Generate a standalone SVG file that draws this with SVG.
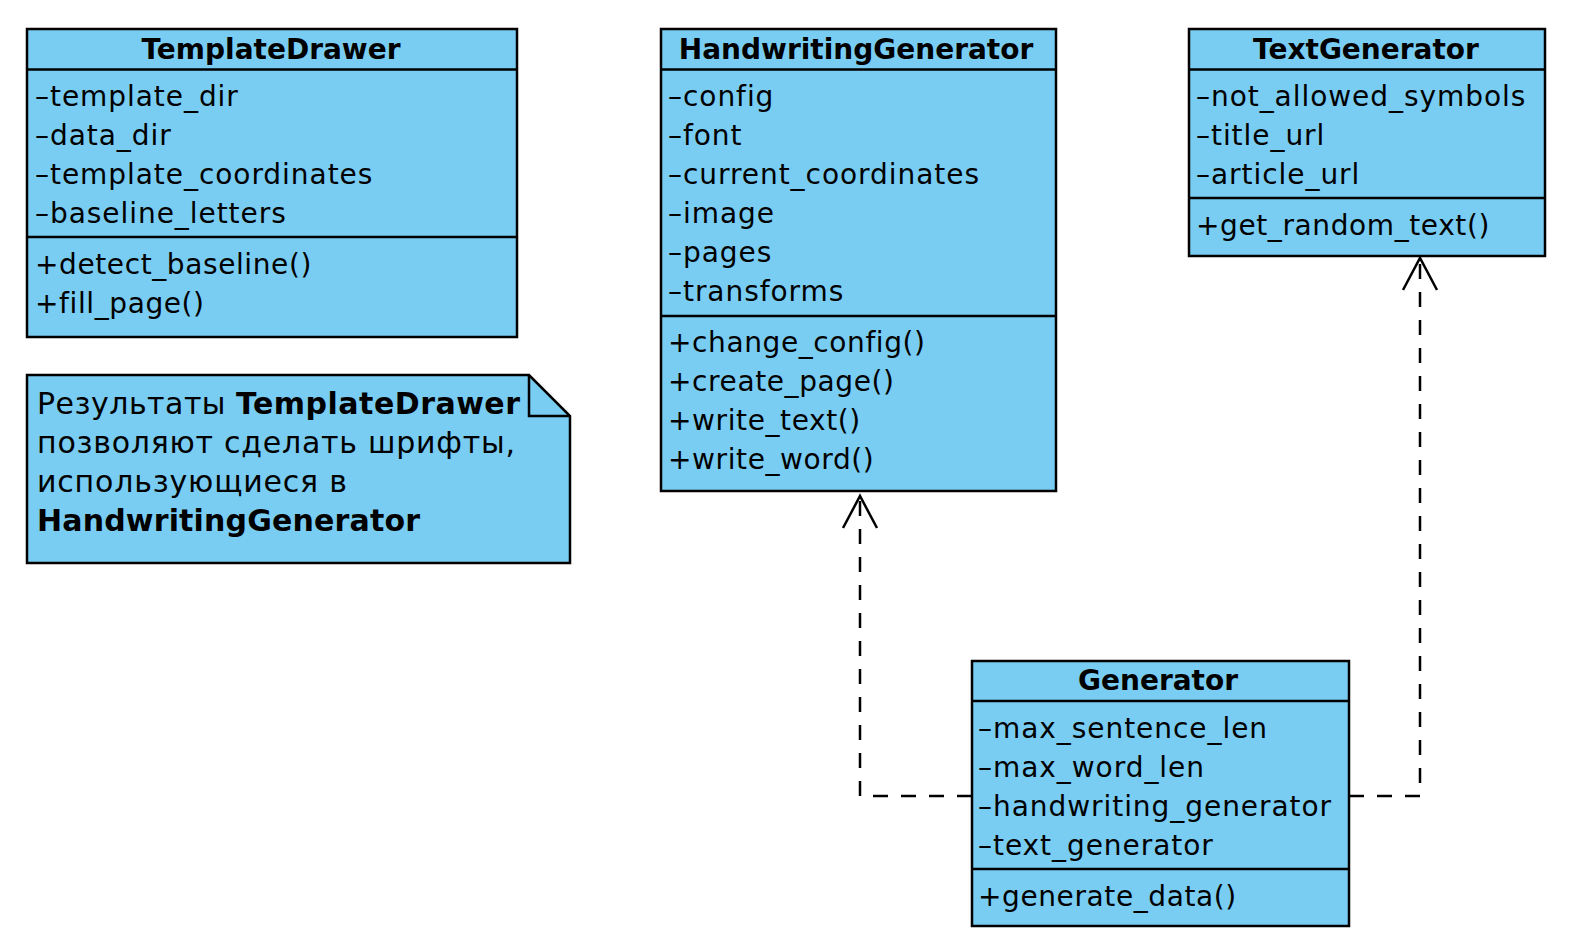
<svg xmlns="http://www.w3.org/2000/svg" width="1574" height="952" viewBox="0 0 1574 952">
<style>
.box{fill:#79CDF3;stroke:#000;stroke-width:2.5}
.sep{stroke:#000;stroke-width:2.5;fill:none}
.t{font-family:"DejaVu Sans",sans-serif;font-size:28px;fill:#000;letter-spacing:0.95px}
.m{font-family:"DejaVu Sans",sans-serif;font-size:28px;fill:#000;letter-spacing:0.6px}
.n{font-family:"DejaVu Sans",sans-serif;font-size:30px;fill:#000}
.b{font-weight:bold}
.title{font-family:"DejaVu Sans",sans-serif;font-size:28px;font-weight:bold;text-anchor:middle;fill:#000}
.dash{fill:none;stroke:#000;stroke-width:2.5;stroke-dasharray:15,13}
.head{fill:none;stroke:#000;stroke-width:2.5}
</style>
<rect width="1574" height="952" fill="#fff"/>
<g id="TemplateDrawer">
<rect class="box" x="27" y="29" width="490" height="308"/>
<line class="sep" x1="27" y1="69.5" x2="517" y2="69.5"/>
<line class="sep" x1="27" y1="237" x2="517" y2="237"/>
<text class="title" x="271" y="59">TemplateDrawer</text>
<text class="t" x="35" y="106">–template_dir</text>
<text class="t" x="35" y="145">–data_dir</text>
<text class="t" x="35" y="184">–template_coordinates</text>
<text class="t" x="35" y="223">–baseline_letters</text>
<text class="m" x="35" y="274">+detect_baseline()</text>
<text class="m" x="35" y="313">+fill_page()</text>
</g>
<g id="Note">
<polygon class="box" points="27,375 529,375 570,416 570,563 27,563"/>
<polyline class="sep" points="529,375 529,416 570,416"/>
<text class="n" x="37" y="414" textLength="483" lengthAdjust="spacing">Результаты <tspan class="b">TemplateDrawer</tspan></text>
<text class="n" x="37" y="453" textLength="478" lengthAdjust="spacing">позволяют сделать шрифты,</text>
<text class="n" x="37" y="492" textLength="310" lengthAdjust="spacing">использующиеся в</text>
<text class="n b" x="37" y="531" textLength="383" lengthAdjust="spacing">HandwritingGenerator</text>
</g>
<g id="HandwritingGenerator">
<rect class="box" x="661" y="29" width="395" height="462"/>
<line class="sep" x1="661" y1="69.5" x2="1056" y2="69.5"/>
<line class="sep" x1="661" y1="316" x2="1056" y2="316"/>
<text class="title" x="856" y="59">HandwritingGenerator</text>
<text class="t" x="668" y="106">–config</text>
<text class="t" x="668" y="145">–font</text>
<text class="t" x="668" y="184">–current_coordinates</text>
<text class="t" x="668" y="223">–image</text>
<text class="t" x="668" y="262">–pages</text>
<text class="t" x="668" y="301">–transforms</text>
<text class="m" x="668" y="352">+change_config()</text>
<text class="m" x="668" y="391">+create_page()</text>
<text class="m" x="668" y="430">+write_text()</text>
<text class="m" x="668" y="469">+write_word()</text>
</g>
<g id="TextGenerator">
<rect class="box" x="1189" y="29" width="356" height="227"/>
<line class="sep" x1="1189" y1="69.5" x2="1545" y2="69.5"/>
<line class="sep" x1="1189" y1="198" x2="1545" y2="198"/>
<text class="title" x="1366" y="59">TextGenerator</text>
<text class="t" x="1196" y="106">–not_allowed_symbols</text>
<text class="t" x="1196" y="145">–title_url</text>
<text class="t" x="1196" y="184">–article_url</text>
<text class="m" x="1196" y="235">+get_random_text()</text>
</g>
<g id="Generator">
<rect class="box" x="972" y="661" width="377" height="265"/>
<line class="sep" x1="972" y1="701" x2="1349" y2="701"/>
<line class="sep" x1="972" y1="869" x2="1349" y2="869"/>
<text class="title" x="1158" y="690">Generator</text>
<text class="t" x="978" y="738">–max_sentence_len</text>
<text class="t" x="978" y="777">–max_word_len</text>
<text class="t" x="978" y="816">–handwriting_generator</text>
<text class="t" x="978" y="855">–text_generator</text>
<text class="m" x="978" y="906">+generate_data()</text>
</g>
<g id="connectors">
<path class="dash" d="M972,796 H860 V497"/>
<polyline class="head" points="843,528 860,496 877,528"/>
<path class="dash" d="M1349,796 H1420 V259"/>
<polyline class="head" points="1403,290 1420,258 1437,290"/>
</g>
</svg>
